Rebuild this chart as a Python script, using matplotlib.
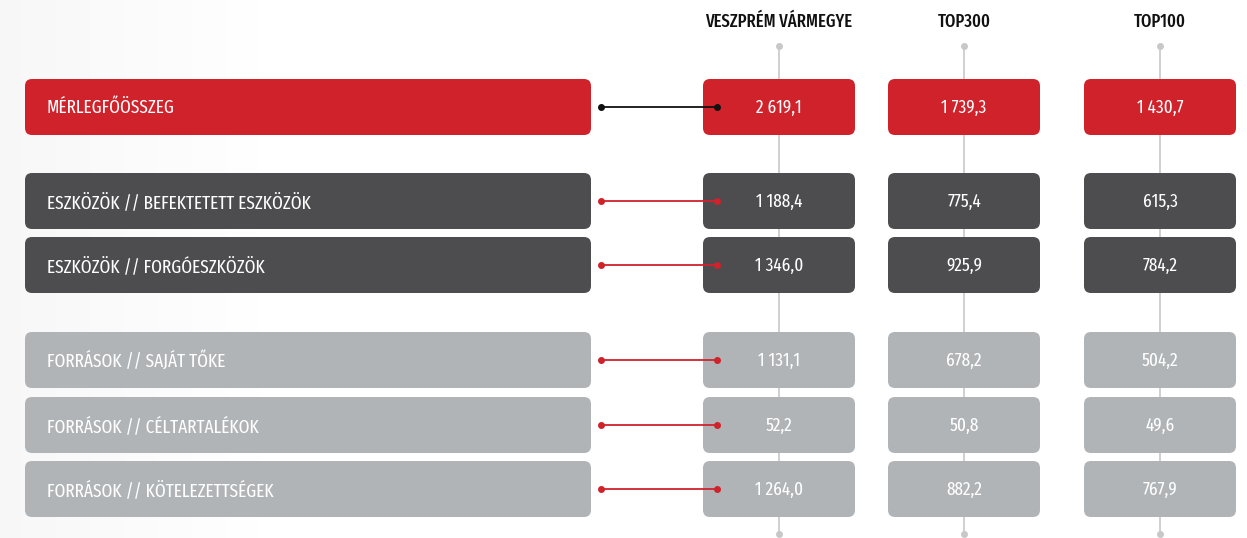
import os
import matplotlib
matplotlib.use("Agg")
import matplotlib.pyplot as plt
from matplotlib.patches import FancyBboxPatch
from matplotlib import font_manager
from matplotlib.font_manager import FontProperties
import numpy as np

labels = ["MÉRLEGFŐÖSSZEG",
          "ESZKÖZÖK // BEFEKTETETT ESZKÖZÖK",
          "ESZKÖZÖK // FORGÓESZKÖZÖK",
          "FORRÁSOK // SAJÁT TŐKE",
          "FORRÁSOK // CÉLTARTALÉKOK",
          "FORRÁSOK // KÖTELEZETTSÉGEK"]
columns = ["VESZPRÉM VÁRMEGYE", "TOP300", "TOP100"]
veszprem = ["2 619,1", "1 188,4", "1 346,0", "1 131,1", "52,2", "1 264,0"]
top300 = ["1 739,3", "775,4", "925,9", "678,2", "50,8", "882,2"]
top100 = ["1 430,7", "615,3", "784,2", "504,2", "49,6", "767,9"]
groups = [0, 1, 1, 2, 2, 2]

RED = "#d0222b"
DARK = "#4d4d4f"
LIGHT = "#b1b4b7"
fills = [RED, DARK, LIGHT]

# narrowest installed face, the original uses a tall condensed display font
files = [f.fname for f in font_manager.fontManager.ttflist]
bad = ("Bold", "Italic", "Light", "Thin", "Black", "Medium", "Semi", "Extra-Light")


def find(tag):
    for f in files:
        b = os.path.basename(f)
        if tag in b and not any(x in b.replace(tag, "") for x in bad):
            return f
    return None


font_file = None
for tag in ["ExtraCondensed", "Condensed", "Narrow"]:
    font_file = find(tag)
    if font_file:
        break
fp = FontProperties(fname=font_file) if font_file else FontProperties(family="DejaVu Sans")
fp_head = fp.copy()
head_file = None
if font_file:
    stem = os.path.basename(font_file).split(".")[0]
    for f in files:
        b = os.path.basename(f)
        if b.startswith(stem.replace("-Regular", "")) and ("Medium" in b) and "Italic" not in b:
            head_file = f
            break
if head_file:
    fp_head = FontProperties(fname=head_file)

W, H = 1247, 538
fig = plt.figure(figsize=(W / 100, H / 100), dpi=100)
ax = fig.add_axes([0, 0, 1, 1])
ax.set_xlim(0, W)
ax.set_ylim(H, 0)
ax.axis("off")

# faint grey wash on the left edge
grad = np.linspace(0.97, 1.0, 260)[None, :]
ax.imshow(np.dstack([grad, grad, grad]), extent=(0, 260, H, 0), aspect="auto", zorder=0)

row_y = [107, 201, 265, 360, 425, 489]
box_h = 56
col_x = [779, 964, 1160]
col_w = 152

# vertical guide lines with end dots
for cx, name in zip(col_x, columns):
    ax.plot([cx, cx], [46, 534], color="#c8c8c8", lw=1.2, zorder=1)
    ax.plot([cx, cx], [46, 534], "o", color="#c8c8c8", ms=4, zorder=1)
    t = ax.text(cx, 22, name, ha="center", va="center",
                fontproperties=fp_head, color="#111111")
    t.set_fontsize(13)

for i, (lab, y) in enumerate(zip(labels, row_y)):
    c = fills[groups[i]]
    ax.add_patch(FancyBboxPatch((25, y - box_h / 2), 566, box_h,
                                boxstyle="round,pad=0,rounding_size=7",
                                fc=c, ec="none", zorder=2))
    t = ax.text(47, y + 1, lab, ha="left", va="center",
                fontproperties=fp, color="white", zorder=3)
    t.set_fontsize(13.5)
    for cx, vals in zip(col_x, [veszprem, top300, top100]):
        ax.add_patch(FancyBboxPatch((cx - col_w / 2, y - box_h / 2), col_w, box_h,
                                    boxstyle="round,pad=0,rounding_size=7",
                                    fc=c, ec="none", zorder=2))
        t = ax.text(cx, y + 1, vals[i], ha="center", va="center",
                    fontproperties=fp, color="white", zorder=3)
        t.set_fontsize(13.5)
    lc = "#111111" if i == 0 else RED
    ax.plot([601, 717], [y, y], color=lc, lw=1.3, zorder=4)
    ax.plot([601, 717], [y, y], "o", color=lc, ms=4, zorder=4)

fig.savefig("out.png", dpi=100)
